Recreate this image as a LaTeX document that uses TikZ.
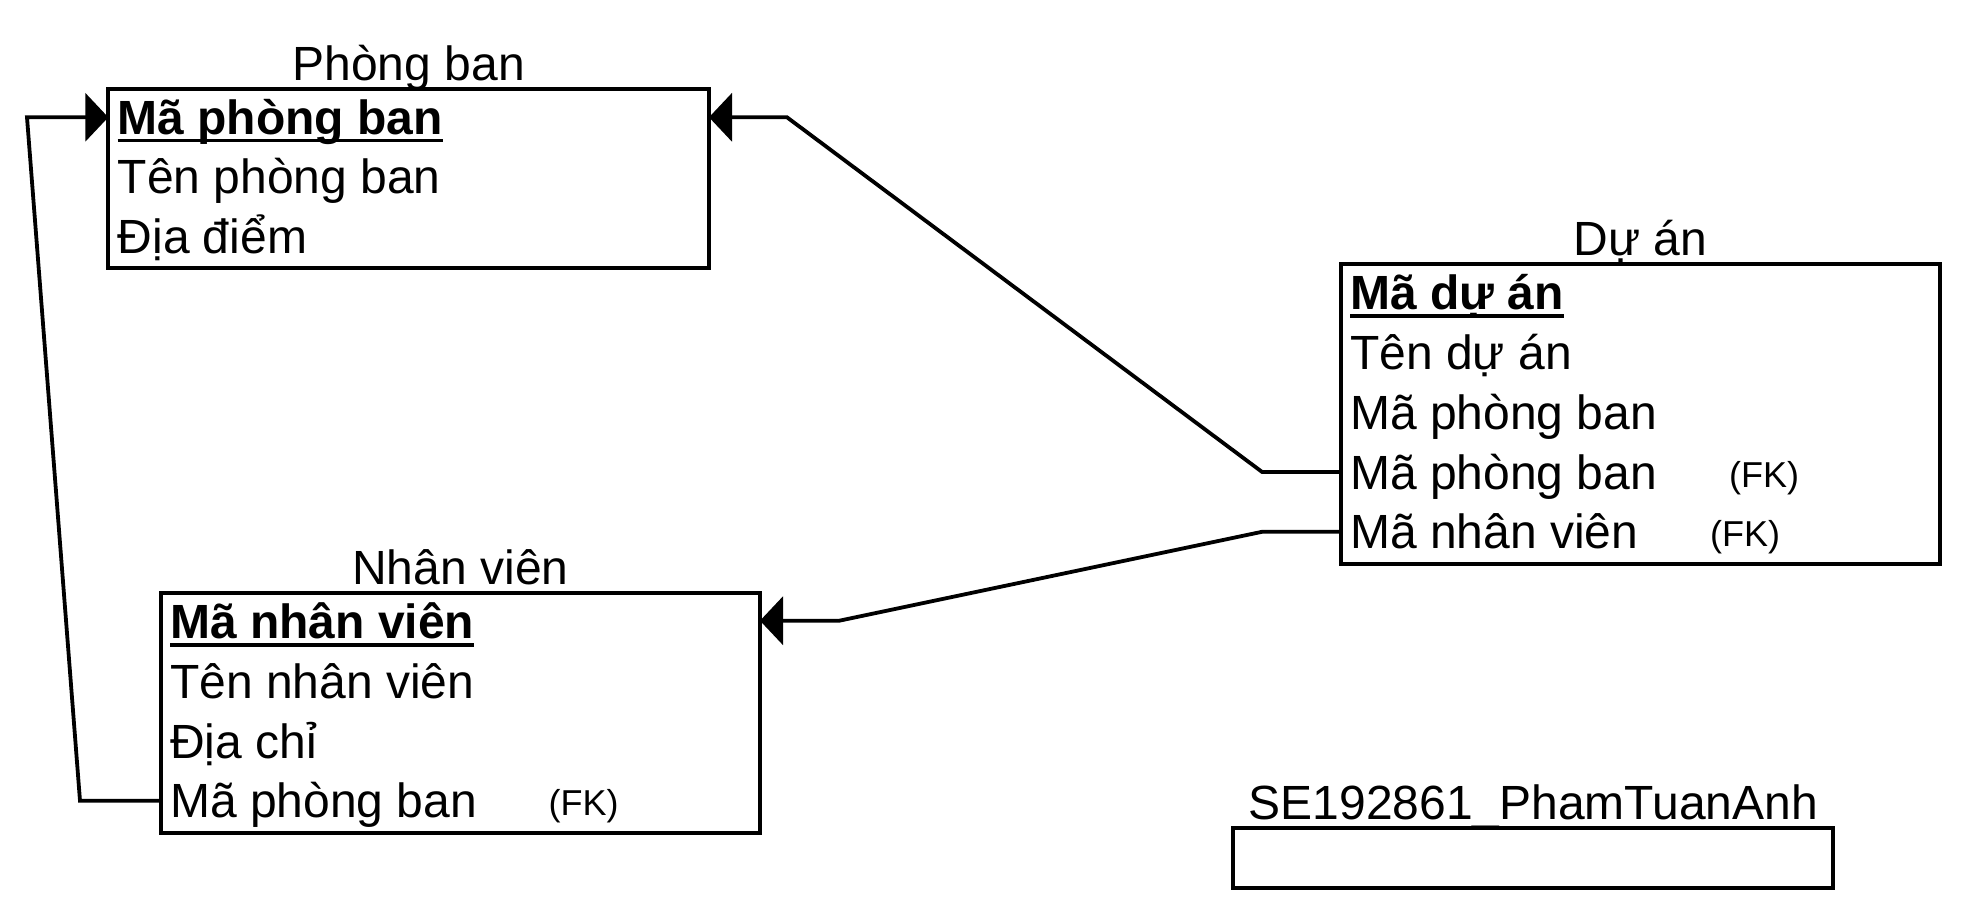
\documentclass[tikz,border=0pt]{standalone}
\usepackage{fontspec}
\setmainfont{Liberation Sans}
\usetikzlibrary{arrows.meta}
\begin{document}
\begin{tikzpicture}[x=1pt,y=-1pt,
  tbl/.style={draw, line width=4.2pt, inner sep=0pt, outer sep=0pt, anchor=north west},
  fld/.style={anchor=base west, inner sep=0pt, font=\fontsize{48}{55}\selectfont},
  keyfld/.style={anchor=base west, inner sep=0pt, font=\fontsize{48}{55}\selectfont\bfseries},
  ttl/.style={anchor=base, inner sep=0pt, font=\fontsize{48}{55}\selectfont},
  fk/.style={anchor=base west, inner sep=0pt, font=\fontsize{36}{42}\selectfont},
  uline/.style={line width=3.8pt},
  link/.style={line width=3.8pt, -{Triangle[length=23pt,width=48pt]}}
]
\useasboundingbox (0,0) rectangle (1968,916);

% Phong ban
\node[tbl, minimum width=600.7pt, minimum height=179pt] (pb) at (108.3,89) {};
\node[ttl] (pbt) at (408.7,80) {Phòng ban};
\node[keyfld] (pb1) at (117.5,134) {Mã phòng ban};
\node[fld] (pb2) at (117.5,193.7) {Tên phòng ban};
\node[fld] (pb3) at (117.5,253.4) {Địa điểm};
\draw[uline] ([yshift=-6.4pt]pb1.base west) -- ([yshift=-6.4pt]pb1.base east);

% Du an
\node[tbl, minimum width=599.3pt, minimum height=299.7pt] (da) at (1340.7,264.3) {};
\node[ttl] (dat) at (1640.4,255.3) {Dự án};
\node[keyfld] (da1) at (1350,309.3) {Mã dự án};
\node[fld] (da2) at (1350,369.2) {Tên dự án};
\node[fld] (da3) at (1350,429.1) {Mã phòng ban};
\node[fld] (da4) at (1350,489) {Mã phòng ban};
\node[fk] (da4k) at (1729,487) {(FK)};
\node[fld] (da5) at (1350,548.9) {Mã nhân viên};
\node[fk] (da5k) at (1710,546.9) {(FK)};
\draw[uline] ([yshift=-6.4pt]da1.base west) -- ([yshift=-6.4pt]da1.base east);

% Nhan vien
\node[tbl, minimum width=599.3pt, minimum height=239.4pt] (nv) at (160.7,593.3) {};
\node[ttl] (nvt) at (460.4,584.3) {Nhân viên};
\node[keyfld] (nv1) at (170,638.3) {Mã nhân viên};
\node[fld] (nv2) at (170,698.1) {Tên nhân viên};
\node[fld] (nv3) at (170,758) {Địa chỉ};
\node[fld] (nv4) at (170,817.8) {Mã phòng ban};
\node[fk] (nv4k) at (548.5,815.8) {(FK)};
\draw[uline] ([yshift=-6.4pt]nv1.base west) -- ([yshift=-6.4pt]nv1.base east);

% Signature box
\node[tbl, minimum width=600pt, minimum height=60pt] (se) at (1233.3,828.3) {};
\node[ttl] (set) at (1533.3,819.3) {SE192861\_PhamTuanAnh};

% connector points
\coordinate (pbInR) at (709,117.3);
\coordinate (pbInL) at (108.3,117.3);
\coordinate (nvIn) at (760,620.7);
\coordinate (daOut4) at (1340.7,471.9);
\coordinate (daOut5) at (1340.7,531.8);
\coordinate (nvOut4) at (160.7,800.7);
\coordinate (b1) at (80,800.7);
\coordinate (b2) at (27,117.3);
\coordinate (b3) at (1262,471.9);
\coordinate (b4) at (787,117.3);
\coordinate (b5) at (1262,531.8);
\coordinate (b6) at (839.3,620.7);

\draw[link] (nvOut4) -- (b1) -- (b2) -- (pbInL);
\draw[link] (daOut4) -- (b3) -- (b4) -- (pbInR);
\draw[link] (daOut5) -- (b5) -- (b6) -- (nvIn);
\end{tikzpicture}
\end{document}
